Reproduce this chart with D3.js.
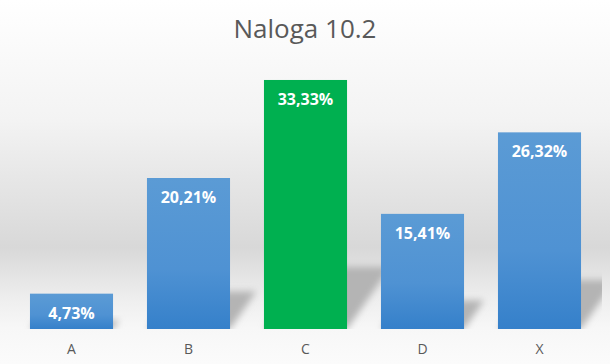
<!DOCTYPE html>
<html>
<head>
<meta charset="utf-8">
<script src="https://cdn.jsdelivr.net/npm/d3@7"></script>
<style>
  body { margin: 0; background: #fff; }
  svg { display: block; }
</style>
</head>
<body>
<script>
// data
var categories = ['A', 'B', 'C', 'D', 'X'];
var values = [4.73, 20.21, 33.33, 15.41, 26.32];
var highlight = ['C'];
var title = 'Naloga 10.2';

var width = 610, height = 364;
var margin = {top: 67.5, right: 12, bottom: 35, left: 13};
var innerW = width - margin.left - margin.right,
  innerH = height - margin.top - margin.bottom;

var svg = d3.select(document.body).append('svg')
  .attr('width', width).attr('height', height);

var defs = svg.append('defs');

// chart area background gradient
var bg = defs.append('linearGradient').attr('id', 'bg')
  .attr('x1', 0).attr('y1', 0).attr('x2', 0).attr('y2', 1);
[[0, '#ffffff'], [0.33, '#f3f3f3'], [0.68, '#d8d8d8'], [0.82, '#eeeeee'], [0.9, '#f7f7f7'], [1, '#fbfbfb']]
  .forEach(function (s) { bg.append('stop').attr('offset', s[0]).attr('stop-color', s[1]); });

var blue = defs.append('linearGradient').attr('id', 'blue')
  .attr('x1', 0).attr('y1', 0).attr('x2', 0).attr('y2', 1);
blue.append('stop').attr('offset', 0).attr('stop-color', '#5b9bd5');
blue.append('stop').attr('offset', 0.6).attr('stop-color', '#4f92d3');
blue.append('stop').attr('offset', 1).attr('stop-color', '#3580ca');

defs.append('filter').attr('id', 'blur')
  .attr('x', '-50%').attr('y', '-50%').attr('width', '200%').attr('height', '200%')
  .append('feGaussianBlur').attr('stdDeviation', 3.5);

defs.append('clipPath').attr('id', 'plotclip')
  .append('rect').attr('x', 0).attr('y', -margin.top).attr('width', innerW + 4).attr('height', innerH + margin.top);

svg.append('rect').attr('width', width).attr('height', height).attr('fill', 'url(#bg)');

svg.append('text')
  .attr('x', width / 2).attr('y', 38)
  .attr('text-anchor', 'middle')
  .attr('font-family', 'Open Sans')
  .attr('font-size', 26)
  .attr('fill', '#595959')
  .text(title);

var x = d3.scaleBand().domain(categories).range([0, innerW]).paddingInner(0.29).paddingOuter(0.145),
  y = d3.scaleLinear().domain([0, 35]).range([innerH, 0]);

var chart = svg.append('g')
  .attr('transform', 'translate(' + margin.left + ',' + margin.top + ')');

var data = categories.map(function (c, i) { return {cat: c, value: values[i]}; });

// soft cast shadows behind the bars
chart.append('g').attr('clip-path', 'url(#plotclip)')
  .selectAll('.shadow')
  .data(data)
  .enter().append('path')
  .attr('class', 'shadow')
  .attr('d', function (d) {
    var x0 = x(d.cat), x1 = x0 + x.bandwidth(),
      h = (innerH - y(d.value)) * 0.25, dx = h * 0.7;
    return 'M' + x0 + ',' + innerH + 'L' + x1 + ',' + innerH +
      'L' + (x1 + dx) + ',' + (innerH - h) + 'L' + (x0 + dx) + ',' + (innerH - h) + 'Z';
  })
  .attr('fill', '#b4b4b4')
  .attr('filter', 'url(#blur)');

chart.selectAll('.bar')
  .data(data)
  .enter().append('rect')
  .attr('class', 'bar')
  .attr('x', function (d) { return x(d.cat); })
  .attr('y', function (d) { return y(d.value); })
  .attr('width', x.bandwidth())
  .attr('height', function (d) { return innerH - y(d.value); })
  .attr('fill', function (d) { return highlight.indexOf(d.cat) >= 0 ? '#00b050' : 'url(#blue)'; });

chart.selectAll('.lbl')
  .data(data)
  .enter().append('text')
  .attr('class', 'lbl')
  .attr('x', function (d) { return x(d.cat) + x.bandwidth() / 2; })
  .attr('y', function (d) { return y(d.value) + 25; })
  .attr('text-anchor', 'middle')
  .attr('font-family', 'Open Sans')
  .attr('font-weight', 'bold')
  .attr('font-size', 16)
  .attr('fill', '#ffffff')
  .text(function (d) { return d.value.toFixed(2).replace('.', ',') + '%'; });

var xAxis = chart.append('g')
  .attr('transform', 'translate(0,' + innerH + ')')
  .call(d3.axisBottom(x).tickSize(0).tickPadding(15));
xAxis.select('.domain').remove();
xAxis.selectAll('text')
  .attr('font-family', 'Open Sans')
  .attr('font-size', 14)
  .attr('fill', '#595959');
</script>
</body>
</html>
